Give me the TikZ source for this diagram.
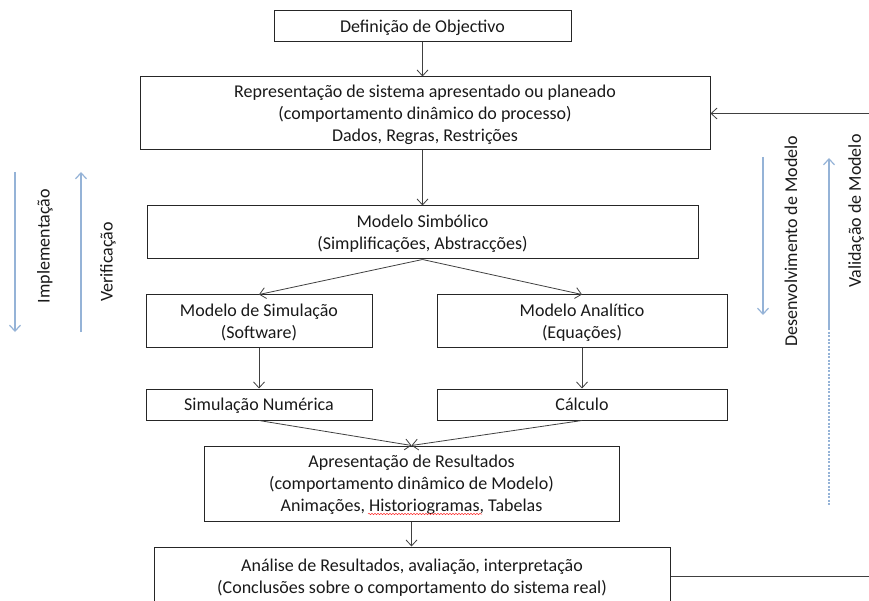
\documentclass[tikz,border=0pt]{standalone}
\usepackage{fontspec}
\setmainfont{Carlito}
\usetikzlibrary{arrows.meta,decorations.pathmorphing}
\definecolor{flowblue}{RGB}{149,179,215}
\definecolor{linkgray}{RGB}{64,64,64}
\begin{document}
\begin{tikzpicture}[x=1pt,y=-1pt,
  box/.style={draw=black!85, line width=1pt, align=center, inner sep=0pt,
    text depth=0pt, font=\fontsize{18}{22}\selectfont, text=black!90},
  link/.style={draw=linkgray, line width=0.8pt,
    -{Straight Barb[length=6pt,width=11pt,line width=0.8pt]}},
  flow/.style={draw=flowblue, line width=1.4pt,
    -{Straight Barb[length=6pt,width=11pt,line width=1.2pt]}},
  side/.style={rotate=90, inner sep=0pt, font=\fontsize{18}{22}\selectfont, text=black!90}
]
\useasboundingbox (0,0) rectangle (869,601);

% main chain of boxes
\node[box, minimum width=297pt, minimum height=31pt] (def) at (422.5,26.5) {Definição de Objectivo};
\node[box, minimum width=570pt, minimum height=73pt] (rep) at (425,113.5)
  {Representação de sistema apresentado ou planeado\\(comportamento dinâmico do processo)\\Dados, Regras, Restrições};
\node[box, minimum width=551pt, minimum height=53pt] (sym) at (422.5,232.5)
  {Modelo Simbólico\\(Simplificações, Abstracções)};
\node[box, minimum width=226pt, minimum height=52pt] (sim) at (259,321)
  {Modelo de Simulação\\(Software)};
\node[box, minimum width=290pt, minimum height=52pt] (ana) at (582,321)
  {Modelo Analítico\\(Equações)};
\node[box, minimum width=226pt, minimum height=31pt] (num) at (259,404.5) {Simulação Numérica};
\node[box, minimum width=290pt, minimum height=31pt] (cal) at (582,404.5) {Cálculo};
\node[box, minimum width=415pt, minimum height=75pt] (res) at (411.5,483.5)
  {Apresentação de Resultados\\(comportamento dinâmico de Modelo)\\Animações, Historiogramas, Tabelas};
\node[box, minimum width=516pt, minimum height=58pt] (an) at (412,576)
  {Análise de Resultados, avaliação, interpretação\\(Conclusões sobre o comportamento do sistema real)};

% spelling mark under a word
\draw[red!80, line width=0.5pt, decorate,
  decoration={snake, amplitude=0.7pt, segment length=3pt}] (368,514) -- (482,514);

% connectors
\draw[link] (def.south) -- (def.south |- rep.north);
\draw[link] (sym.north |- rep.south) -- (sym.north);
\draw[link] (sym.south) -- (sim.north);
\draw[link] (sym.south) -- (ana.north);
\draw[link] (sim.south) -- (num.north);
\draw[link] (ana.south) -- (cal.north);
\draw[link] (num.south) -- (res.north);
\draw[link] (cal.south) -- (res.north);
\draw[link] (res.south) -- (res.south |- an.north);
\coordinate (fb) at (880,113.5);
\draw[link] (an.east) -| (fb) -- (rep.east);

% side arrows
\coordinate (imA) at (15,172);
\coordinate (imB) at (15,332);
\coordinate (veA) at (81,332);
\coordinate (veB) at (81,172);
\coordinate (deA) at (763,157);
\coordinate (deB) at (763,315);
\coordinate (vaA) at (829,328);
\coordinate (vaB) at (829,158);
\coordinate (vaC) at (829,505);
\draw[flow] (imA) -- (imB);
\draw[flow] (veA) -- (veB);
\draw[flow] (deA) -- (deB);
\draw[flow] (vaA) -- (vaB);
\draw[draw=flowblue, line width=1.4pt, dash pattern=on 2pt off 1.5pt] (vaA) -- (vaC);

% side labels
\node[side] (imL) at (45,246) {Implementação};
\node[side] (veL) at (108,262) {Verificação};
\node[side] (deL) at (791,241) {Desenvolvimento de Modelo};
\node[side] (vaL) at (856,211) {Validação de Modelo};
\end{tikzpicture}
\end{document}
